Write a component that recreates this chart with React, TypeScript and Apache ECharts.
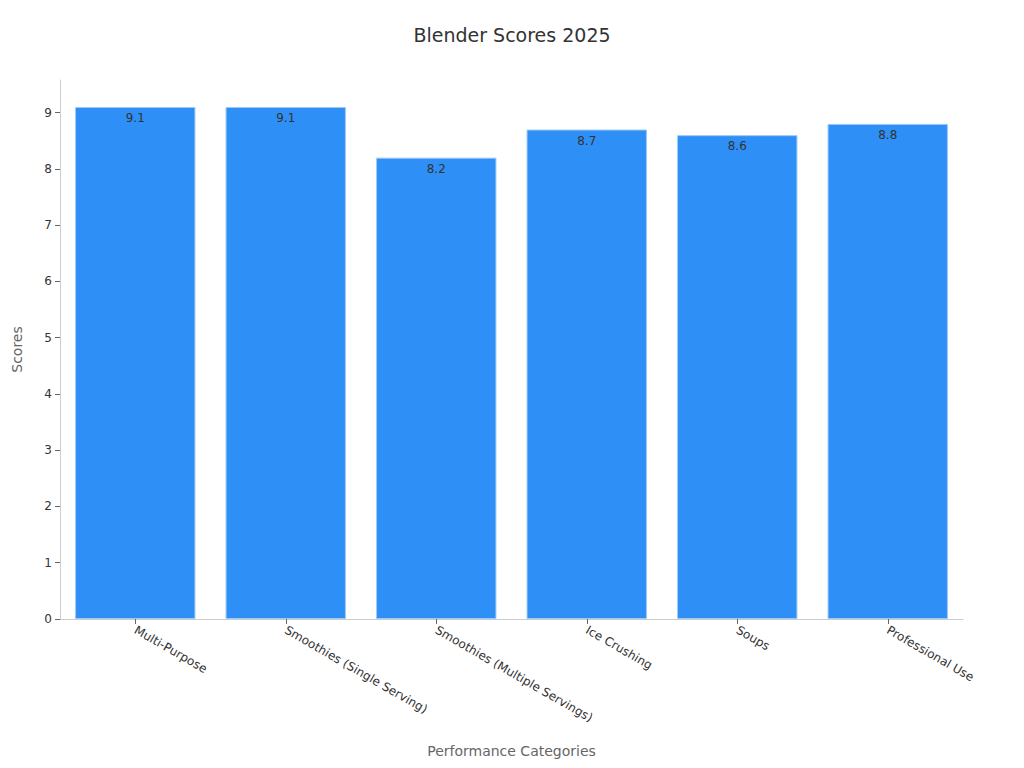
import React, { useEffect, useRef } from 'react';
import * as echarts from 'echarts';

const categories = [
  'Multi-Purpose',
  'Smoothies (Single Serving)',
  'Smoothies (Multiple Servings)',
  'Ice Crushing',
  'Soups',
  'Professional Use',
];
const scores = [9.1, 9.1, 8.2, 8.7, 8.6, 8.8];

const FONT = 'DejaVu Sans, sans-serif';

export default function App() {
  const chartRef = useRef<HTMLDivElement | null>(null);

  useEffect(() => {
    if (!chartRef.current) return;
    const chart = echarts.init(chartRef.current, undefined, { renderer: 'svg' });
    chart.setOption({
      animation: false,
      textStyle: { fontFamily: FONT },
      title: {
        text: 'Blender Scores 2025',
        left: 'center',
        top: 20,
        textStyle: { fontSize: 19, fontWeight: 'normal', color: '#333', fontFamily: FONT },
      },
      grid: { left: 60, right: 61, top: 80, bottom: 149, containLabel: false },
      xAxis: {
        type: 'category',
        data: categories,
        name: 'Performance Categories',
        nameLocation: 'middle',
        nameGap: 125,
        nameTextStyle: { fontSize: 14, color: '#666', fontFamily: FONT },
        axisLine: { show: true, lineStyle: { color: '#ccc' } },
        axisTick: { show: true, alignWithLabel: true, lineStyle: { color: '#666' } },
        axisLabel: { rotate: -30, fontSize: 12, color: '#333', margin: 10, interval: 0, fontFamily: FONT },
      },
      yAxis: {
        type: 'value',
        min: 0,
        max: 9.58,
        interval: 1,
        name: 'Scores',
        nameLocation: 'middle',
        nameGap: 36,
        nameTextStyle: { fontSize: 14, color: '#666', fontFamily: FONT },
        axisLine: { show: true, lineStyle: { color: '#ccc' } },
        axisTick: { show: true, lineStyle: { color: '#666' } },
        axisLabel: {
          fontSize: 12,
          color: '#333',
          fontFamily: FONT,
          showMaxLabel: false,
          formatter: (v: number) => (Number.isInteger(v) ? String(v) : ''),
        },
        splitLine: { show: false },
      },
      series: [
        {
          type: 'bar',
          data: scores,
          barCategoryGap: '20%',
          itemStyle: { color: '#2e90f6', borderColor: '#9cc9f7', borderWidth: 1 },
          label: {
            show: true,
            position: 'insideTop',
            distance: 5,
            fontSize: 12,
            color: '#333',
            fontFamily: FONT,
          },
        },
      ],
    });
    return () => {
      chart.dispose();
    };
  }, []);

  return (
    <div
      ref={chartRef}
      style={{ position: 'absolute', left: 0, top: 0, width: 1024, height: 768, background: '#fff' }}
    />
  );
}
